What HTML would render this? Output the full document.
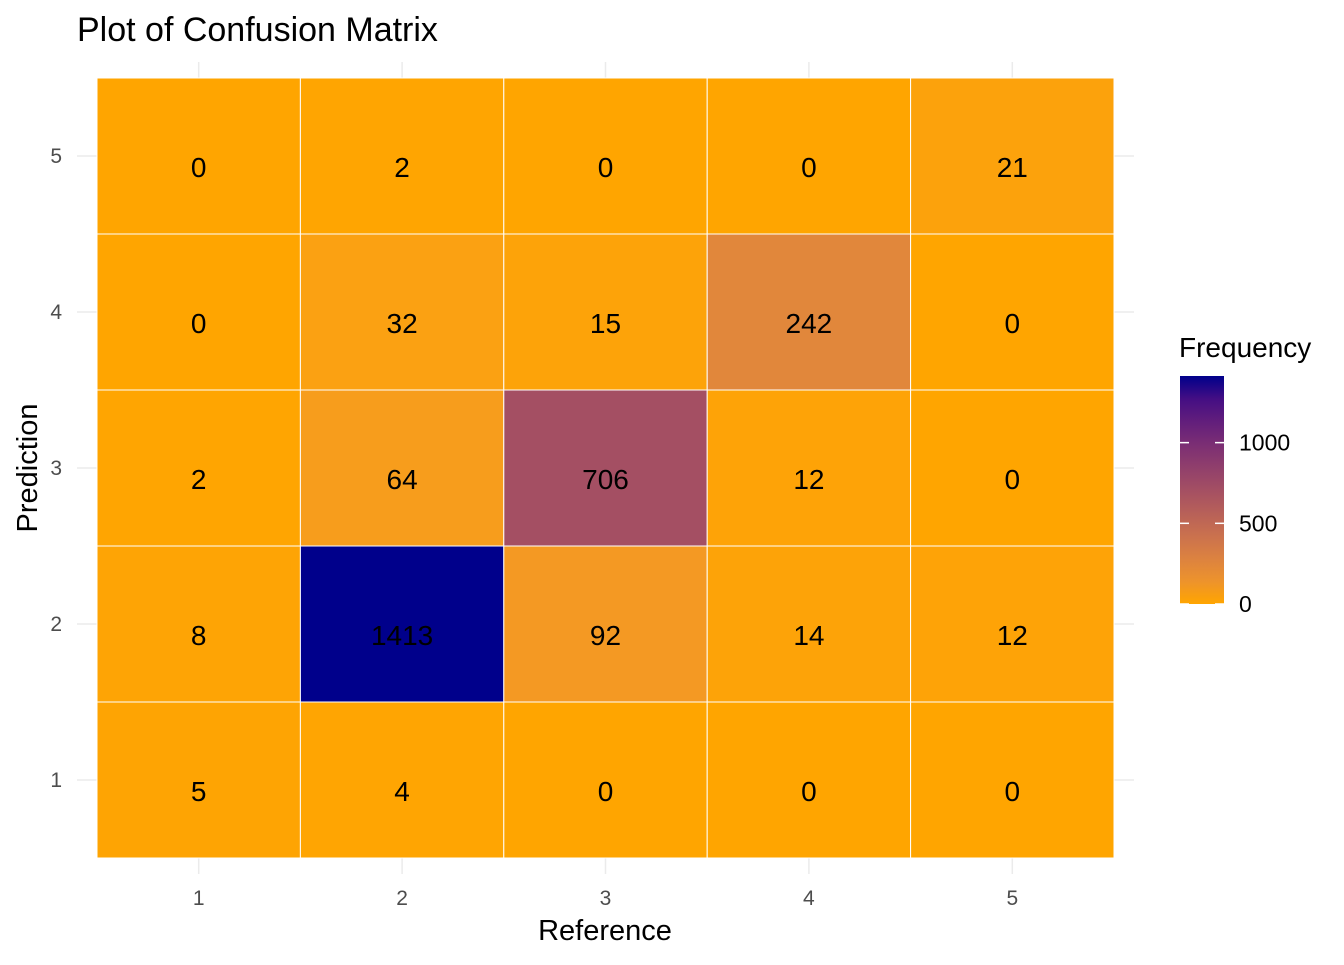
<!DOCTYPE html>
<html><head><meta charset="utf-8"><style>
body{margin:0;background:#fff;}
svg text{font-family:"Liberation Sans",Arial,sans-serif;}
</style></head><body>
<svg id="chart" width="1344" height="960">
<defs><linearGradient id="lg" x1="0" y1="1" x2="0" y2="0"></linearGradient></defs>
<text x="77" y="41" font-size="34" fill="#000">Plot of Confusion Matrix</text>
<g id="grid"></g><g id="tiles"></g><g id="labels"></g><g id="axes"></g><g id="legend"></g>
<text x="605" y="940" font-size="29" text-anchor="middle">Reference</text>
<text transform="translate(37,468) rotate(-90)" font-size="29" text-anchor="middle">Prediction</text>
</svg>
<script>
const refCats=[1,2,3,4,5];
const predCats=[1,2,3,4,5];
// values[pred-1][ref-1]
const values=[
 [5,4,0,0,0],
 [8,1413,92,14,12],
 [2,64,706,12,0],
 [0,32,15,242,0],
 [0,2,0,0,21]
];
const legendTicks=[0,500,1000];
const NS="http://www.w3.org/2000/svg";
function mk(t,a,p){const e=document.createElementNS(NS,t);for(const k in a)e.setAttribute(k,a[k]);p.appendChild(e);return e;}
const px0=97,px1=1114,py0=78,py1=858;
const cw=(px1-px0)/refCats.length,ch=(py1-py0)/predCats.length;
const xS=i=>px0+cw*(i+0.5), yS=i=>py1-ch*(i+0.5);
let vmax=0;values.forEach(r=>r.forEach(v=>{if(v>vmax)vmax=v;}));
function toLin(c){c/=255;return c<=0.04045?c/12.92:Math.pow((c+0.055)/1.055,2.4);}
function fromLin(c){c=c<=0.0031308?12.92*c:1.055*Math.pow(c,1/2.4)-0.055;return Math.max(0,Math.min(255,Math.round(c*255)));}
function rgb2lab(r,g,b){r=toLin(r);g=toLin(g);b=toLin(b);
let x=(r*0.4124+g*0.3576+b*0.1805)/0.95047,y=r*0.2126+g*0.7152+b*0.0722,z=(r*0.0193+g*0.1192+b*0.9505)/1.08883;
const f=t=>t>0.008856?Math.cbrt(t):7.787*t+16/116;x=f(x);y=f(y);z=f(z);return[116*y-16,500*(x-y),200*(y-z)];}
function lab2rgb(L,a,b){let y=(L+16)/116,x=a/500+y,z=y-b/200;const fi=t=>t*t*t>0.008856?t*t*t:(t-16/116)/7.787;
x=fi(x)*0.95047;y=fi(y);z=fi(z)*1.08883;
const r=x*3.2406+y*-1.5372+z*-0.4986,g=x*-0.9689+y*1.8758+z*0.0415,bb=x*0.0557+y*-0.2040+z*1.0570;
return "rgb("+fromLin(r)+","+fromLin(g)+","+fromLin(bb)+")";}
const lo=rgb2lab(255,165,0),hi=rgb2lab(0,0,139);
function col(v){const t=v/vmax;return lab2rgb(lo[0]+(hi[0]-lo[0])*t,lo[1]+(hi[1]-lo[1])*t,lo[2]+(hi[2]-lo[2])*t);}
const grid=document.getElementById('grid');
refCats.forEach((c,i)=>{const l=mk('line',{x1:xS(i),x2:xS(i),y1:62,y2:874,stroke:'#ebebeb','stroke-width':1.5},grid);

});
predCats.forEach((c,i)=>{const l=mk('line',{x1:77,x2:1134,y1:yS(i),y2:yS(i),stroke:'#ebebeb','stroke-width':1.5},grid);

});
const tiles=document.getElementById('tiles'),labels=document.getElementById('labels');
values.forEach((row,pi)=>row.forEach((v,ri)=>{
const r=mk('rect',{x:xS(ri)-cw/2,y:yS(pi)-ch/2,width:cw,height:ch,fill:col(v),stroke:'#fff','stroke-width':1},tiles);


const t=mk('text',{x:xS(ri),y:yS(pi)+21,'font-size':28,'text-anchor':'middle',fill:'#000'},labels);t.textContent=v;


}));
const axes=document.getElementById('axes');
refCats.forEach((c,i)=>{const t=mk('text',{x:xS(i),y:905,'font-size':21,'text-anchor':'middle',fill:'#4d4d4d'},axes);t.textContent=c;

});
predCats.forEach((c,i)=>{const t=mk('text',{x:62,y:yS(i)+7,'font-size':21,'text-anchor':'end',fill:'#4d4d4d'},axes);t.textContent=c;

});
const lg=document.getElementById('lg');
for(let k=0;k<=10;k++){mk('stop',{offset:k/10,'stop-color':col(vmax*k/10)},lg);}
const leg=document.getElementById('legend');
const t0=mk('text',{x:1179,y:357,'font-size':28},leg);t0.textContent='Frequency';


const bx=1180,bw=44,by0=604,by1=376;
const bar=mk('rect',{x:bx,y:by1,width:bw,height:by0-by1,fill:'url(#lg)'},leg);


const ly=v=>by0-(by0-by1)*v/vmax;
legendTicks.forEach(v=>{
mk('line',{x1:bx,x2:bx+9,y1:ly(v),y2:ly(v),stroke:'#fff','stroke-width':1.5},leg);
mk('line',{x1:bx+bw-9,x2:bx+bw,y1:ly(v),y2:ly(v),stroke:'#fff','stroke-width':1.5},leg);
const t=mk('text',{x:1239,y:ly(v)+8,'font-size':23,fill:'#000'},leg);t.textContent=v;

});
</script>
</body></html>
